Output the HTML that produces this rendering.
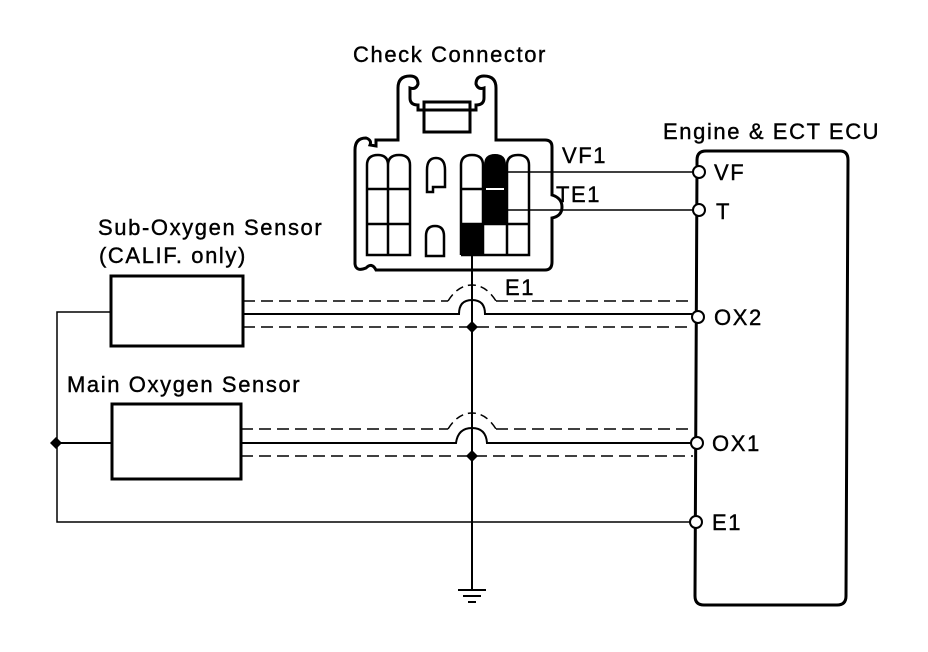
<!DOCTYPE html>
<html><head><meta charset="utf-8"><style>
html,body{margin:0;padding:0;background:#fff;}
svg{display:block;}
text{font-family:"Liberation Sans",sans-serif;fill:#000;stroke:#000;stroke-width:0.4;letter-spacing:1.6px;}
</style></head><body>
<svg width="928" height="652" viewBox="0 0 928 652" xmlns="http://www.w3.org/2000/svg">
<g fill="none" stroke="#000" stroke-width="2">
<path d="M697 165 L697 160 Q697 151 706 151 L840 151 Q848 151 848 160 L846 596 Q846 605 837 605 L704 605 Q695 605 695 596 Z" stroke-width="3"/>
<path d="M398 140 L398 88 Q398 76 410 76 Q418 76 418 84 Q416 90 410 88 L410 98 Q410 105 418 105 L418 110 L476 110 L476 105 Q484 105 484 98 L484 88 Q478 90 476 84 Q476 76 484 76 Q496 76 496 88 L496 140 L545 140 Q552 140 552 147 L552 195 Q562 198 562 207 Q562 216 552 218 L552 262 Q552 270 545 270 L376 270 Q372 262 366 268 Q356 272 355 264 L355 150 Q355 138 366 138 Q372 140 370 145 L376 146 L376 140 Z" stroke-width="3"/>
<rect x="424" y="102" width="46" height="30" stroke-width="3"/>
<path d="M367 255 L367 165 Q367 155 378 155 Q388 155 388 165 Q388 155 399 155 Q410 155 410 165 L410 255 Z M388 165 L388 255 M367 189 L410 189 M367 224 L410 224" stroke-width="2.5"/>
<path d="M427 192 L427 170 Q427 158 436 158 Q445 158 445 170 L445 187 L433 187 L433 192 Z" stroke-width="2.5"/>
<path d="M426 256 L426 236 Q426 226 435 226 Q444 226 444 236 L444 256 Z" stroke-width="2.5"/>
<path d="M461 255 L461 165 Q461 155 472 155 Q483 155 483 165 L483 255 M507 165 Q507 155 518 155 Q529 155 529 165 L529 255 L461 255 M461 189 L483 189 M461 224 L529 224 M507 165 L507 255" stroke-width="2.5"/>
</g>
<path d="M484 165 Q484 154 495 154 Q506 154 506 165 L506 224 L484 224 Z" fill="#000"/>
<rect x="486" y="188" width="18" height="2" fill="#fff"/>
<rect x="461" y="224" width="23" height="31" fill="#000"/>
<g fill="none" stroke="#000" stroke-width="1.5">
<line x1="507" y1="172" x2="693" y2="172"/>
<line x1="507" y1="210" x2="693" y2="210"/>
<line x1="472" y1="255" x2="472" y2="590" stroke-width="2"/>
<line x1="458" y1="590" x2="486" y2="590" stroke-width="2"/>
<line x1="463" y1="596" x2="481" y2="596" stroke-width="2"/>
<line x1="468" y1="602" x2="476" y2="602" stroke-width="2"/>
<rect x="111" y="276" width="132" height="70" stroke-width="3"/>
<path d="M243 301 L448 301 M496 301 L693 301" stroke-dasharray="12 6"/>
<path d="M448 301 Q458 285 472 285 Q486 285 496 301" stroke-dasharray="8 5"/>
<path d="M243 314 L459 314 Q459 300 472 300 Q485 300 485 314 L692 314" stroke-width="2"/>
<path d="M243 327 L693 327" stroke-dasharray="12 6"/>
<rect x="112" y="404" width="129" height="75" stroke-width="3"/>
<path d="M241 429 L448 429 M496 429 L693 429" stroke-dasharray="12 6"/>
<path d="M448 429 Q458 413 472 413 Q486 413 496 429" stroke-dasharray="8 5"/>
<path d="M241 443 L456 443 Q458 428 472 428 Q486 428 487 443 L691 443" stroke-width="2"/>
<path d="M241 456 L693 456" stroke-dasharray="12 6"/>
<path d="M111 312 L57 312 L57 522 L690 522"/>
<line x1="57" y1="443" x2="112" y2="443" stroke-width="2"/>
</g>
<g fill="#000">
<path d="M472 321 L478 327 L472 333 L466 327 Z"/>
<path d="M472 450 L478 456 L472 462 L466 456 Z"/>
<path d="M56 437 L62 443 L56 449 L50 443 Z"/>
</g>
<g fill="#fff" stroke="#000" stroke-width="2">
<circle cx="699" cy="172" r="6"/>
<circle cx="699" cy="210" r="6"/>
<circle cx="698" cy="317" r="6"/>
<circle cx="697" cy="443" r="6"/>
<circle cx="696" cy="522" r="6"/>
</g>
<g font-size="22">
<text x="353" y="62">Check Connector</text>
<text x="663" y="139">Engine &amp; ECT ECU</text>
<text x="98" y="235">Sub-Oxygen Sensor</text>
<text x="99" y="263">(CALIF. only)</text>
<text x="67" y="392">Main Oxygen Sensor</text>
<text x="562" y="163">VF1</text>
<text x="556" y="202">TE1</text>
<text x="505" y="295">E1</text>
<text x="714" y="180">VF</text>
<text x="716" y="219">T</text>
<text x="714" y="325">OX2</text>
<text x="712" y="451">OX1</text>
<text x="712" y="530">E1</text>
</g>
</svg>
</body></html>
